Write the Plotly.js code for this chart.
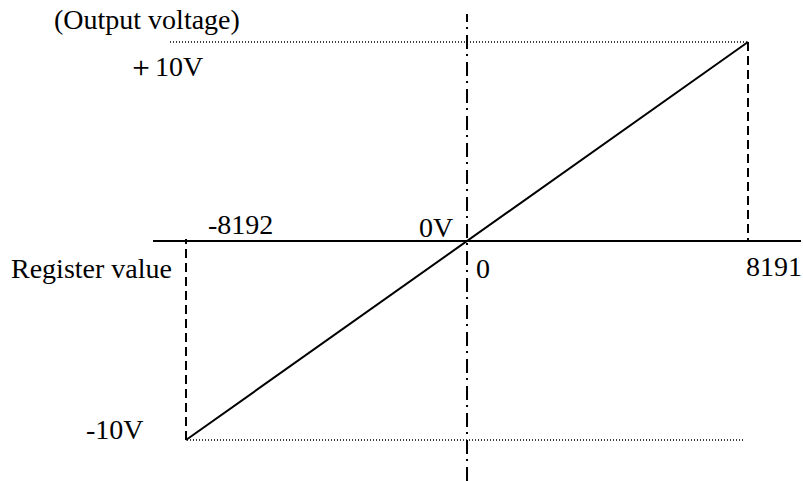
<!DOCTYPE html>
<html>
<head>
<meta charset="utf-8">
<script src="https://cdn.plot.ly/plotly-3.0.1.min.js"></script>
<style>html,body{margin:0;padding:0;background:#fff;}#chart{width:803px;height:481px;}</style>
</head>
<body>
<div id="chart"></div>
<script>
// Data
const registerValues = [-8192, 0, 8191];
const outputVoltages = [-10, 0, 10];
const xTickLabels = ['-8192', '0', '8191'];
const yTickLabels = ['-10V', '0V', '\uFF0B10V'];
const xAxisLabel = 'Register value';
const yAxisLabel = '(Output voltage)';

const W = 803, H = 481;
const px = v => v / W;           // paper x from pixel
const py = v => 1 - v / H;       // paper y from pixel
const FONT = {family: 'Liberation Serif, Times New Roman, serif', size: 28, color: '#000'};

const xMin = registerValues[0], xMax = registerValues[registerValues.length - 1];
const yMin = outputVoltages[0], yMax = outputVoltages[outputVoltages.length - 1];

const trace = {
  x: registerValues, y: outputVoltages, type: 'scatter', mode: 'lines',
  line: {color: '#000', width: 2}, hoverinfo: 'none', showlegend: false
};

const shapes = [
  // horizontal axis
  {type: 'line', xref: 'paper', yref: 'y', x0: px(153), x1: px(801), y0: 0, y1: 0,
   line: {color: '#000', width: 2}},
  // vertical dash-dot axis
  {type: 'line', xref: 'x', yref: 'paper', x0: 0, x1: 0, y0: 0, y1: py(14),
   line: {color: '#000', width: 2, dash: '14px,6px,2px,5px'}},
  // top dotted line
  {type: 'line', xref: 'paper', yref: 'y', x0: px(170), x1: px(748), y0: yMax, y1: yMax,
   line: {color: '#000', width: 1.3, dash: '1px,2px'}},
  // bottom dotted line
  {type: 'line', xref: 'paper', yref: 'y', x0: px(187), x1: px(745), y0: yMin, y1: yMin,
   line: {color: '#000', width: 1.3, dash: '1px,2px'}},
  // right dashed vertical
  {type: 'line', xref: 'x', yref: 'y', x0: xMax, x1: xMax, y0: yMax, y1: 0,
   line: {color: '#000', width: 2, dash: '9px,5px'}},
  // left dashed vertical
  {type: 'line', xref: 'x', yref: 'y', x0: xMin, x1: xMin, y0: yMin, y1: 0.1,
   line: {color: '#000', width: 2, dash: '9px,5px'}}
];

const annotations = [
  {text: xTickLabels[0], xref: 'x', yref: 'y', x: xMin, y: 0, xanchor: 'left', yanchor: 'bottom', xshift: 21, yshift: 0},
  {text: xTickLabels[1], xref: 'x', yref: 'y', x: 0, y: 0, xanchor: 'left', yanchor: 'top', xshift: 8, yshift: -11},
  {text: xTickLabels[2], xref: 'x', yref: 'y', x: xMax, y: 0, xanchor: 'left', yanchor: 'top', xshift: -3, yshift: -9},
  {text: yTickLabels[0], xref: 'x', yref: 'y', x: xMin, y: yMin, xanchor: 'right', yanchor: 'bottom', xshift: -41, yshift: -6},
  {text: yTickLabels[1], xref: 'x', yref: 'y', x: 0, y: 0, xanchor: 'right', yanchor: 'bottom', xshift: -13, yshift: -3},
  {text: yTickLabels[2], xref: 'x', yref: 'y', x: xMin, y: yMax, xanchor: 'left', yanchor: 'bottom', xshift: -60, yshift: -41},
  {text: yAxisLabel, xref: 'paper', yref: 'paper', x: px(53), y: py(36), xanchor: 'left', yanchor: 'bottom'},
  {text: xAxisLabel, xref: 'paper', yref: 'paper', x: px(10), y: py(285), xanchor: 'left', yanchor: 'bottom'}
].map(a => Object.assign({showarrow: false, font: FONT, borderpad: 0}, a));

// pixel mapping: xMin -> 186px, xMax -> 748px ; yMax -> 42px, yMin -> 440px
const xs = (748 - 186) / (xMax - xMin);
const x0px = 186 - xMin * xs;
const ys = (440 - 42) / (yMax - yMin);
const y0px = 42 + yMax * ys;

const layout = {
  width: W, height: H,
  margin: {l: 0, r: 0, t: 0, b: 0, pad: 0},
  paper_bgcolor: '#fff', plot_bgcolor: '#fff',
  xaxis: {range: [(0 - x0px) / xs, (W - x0px) / xs], visible: false, showgrid: false, zeroline: false, fixedrange: true},
  yaxis: {range: [(y0px - H) / ys, y0px / ys], visible: false, showgrid: false, zeroline: false, fixedrange: true},
  shapes: shapes,
  annotations: annotations,
  showlegend: false
};

Plotly.newPlot('chart', [trace], layout, {displayModeBar: false, staticPlot: true});
</script>
</body>
</html>
